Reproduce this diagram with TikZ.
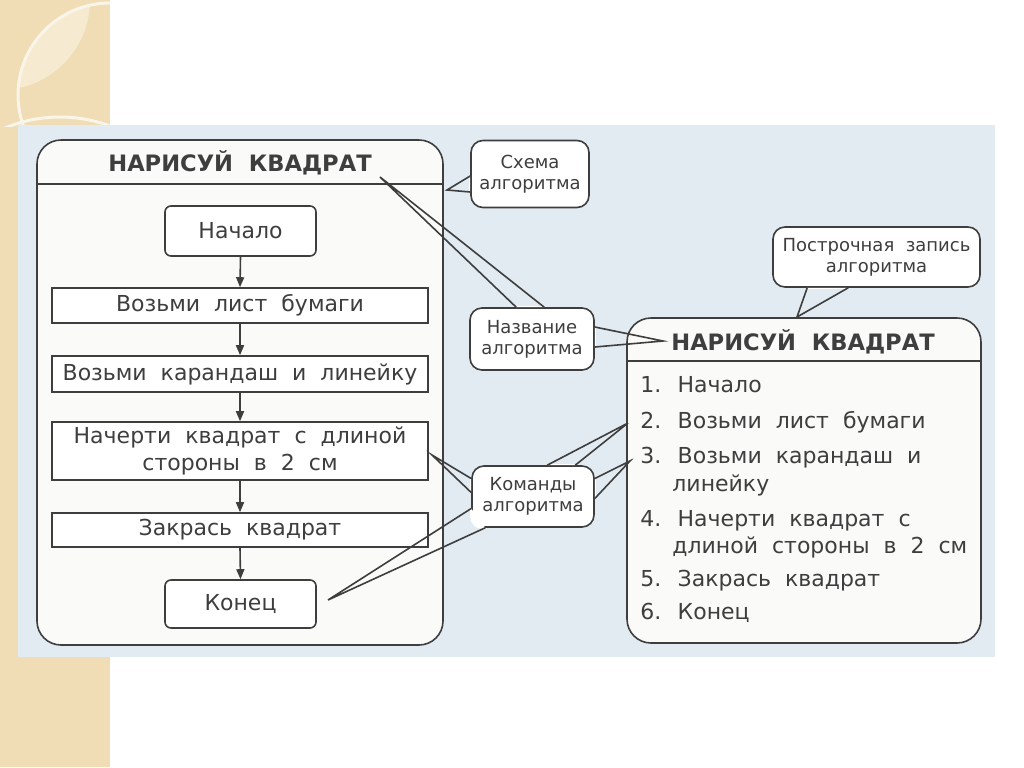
\documentclass[tikz,border=0pt]{standalone}
\usepackage{fontspec}
\setmainfont{DejaVu Sans}[WordSpace=2]
\usetikzlibrary{arrows.meta}
\definecolor{panel}{RGB}{226,235,242}
\definecolor{beige}{RGB}{240,221,181}
\definecolor{beigel}{RGB}{246,234,209}
\definecolor{ink}{RGB}{62,62,62}
\definecolor{boxfill}{RGB}{250,250,248}
% callout tail: node, base 1, base 2, tip
\newcommand{\tail}[4]{%
  \begin{scope}
    \clip[rounded corners=6pt] ([shift={(-.5pt,-.5pt)}]#1.south west) rectangle ([shift={(.5pt,.5pt)}]#1.north east);
    \fill[white] (#2) -- (#4) -- (#3) -- cycle;
  \end{scope}
  \draw[line] (#2) -- (#4) -- (#3);}
\tikzset{>=Triangle,every node/.style={text=ink,font=\fontsize{11}{13.5}\selectfont},
  line/.style={draw=ink,line width=.8pt},
  big/.style={line,fill=boxfill,rounded corners=12pt,inner sep=0pt},
  op/.style={line,fill=white,minimum width=188pt,inner sep=0pt,align=center},
  term/.style={op,rounded corners=3pt,minimum width=75.5pt,minimum height=25pt},
  call/.style={line,fill=white,rounded corners=6pt,inner sep=0pt,align=center,font=\fontsize{9}{10.5}\selectfont},
  ttl/.style={font=\fontsize{11.3}{14}\selectfont\bfseries},
  item/.style={anchor=base west,inner sep=0pt},
  flow/.style={line,-{Triangle[length=5pt,width=4pt]}}}
\begin{document}
\begin{tikzpicture}[x=.5pt,y=-.5pt]
\useasboundingbox (0,0) rectangle (1024,767);
% slide background
\fill[beige] (0,0) rectangle (110,767);
\begin{scope}
\clip (0,0) rectangle (110,767);
\begin{scope}
\clip (0,0) circle[radius=90];
\fill[beigel] (110,95) circle[radius=92];
\end{scope}
\draw[white!70!beige,line width=1.5pt] (110,95) circle[radius=92];
\clip (0,0) rectangle (110,126);
\draw[white!70!beige,line width=1.5pt] (60,260) circle[radius=143];
\end{scope}
\fill[panel] (18,125) rectangle (995,657);
% schema
\node[big,minimum width=203pt,minimum height=252.5pt] (alg1) at (240,392.5) {};
\draw[line] ([yshift=-22.5pt]alg1.north west) -- ([yshift=-22.5pt]alg1.north east);
\node[ttl] (t1) at (240,163) {НАРИСУЙ КВАДРАТ};
\node[term] (nach) at (240.5,231) {Начало};
\node[op,minimum height=17.5pt] (b1) at (240,305.5) {Возьми лист бумаги};
\node[op,minimum height=18pt] (b2) at (240,374) {Возьми карандаш и линейку};
\node[op,minimum height=29pt] (b3) at (240,451) {Начерти квадрат с длиной\\стороны в 2 см};
\node[op,minimum height=17pt] (b4) at (240,530) {Закрась квадрат};
\node[term,minimum height=24pt] (kon) at (240.5,604) {Конец};
\foreach \a/\b in {nach/b1,b1/b2,b2/b3,b3/b4,b4/kon}
  \draw[flow] (\a.south) -- (\b.north);
% line by line
\node[big,minimum width=177pt,minimum height=162.5pt] (alg2) at (804,480.5) {};
\draw[line] ([yshift=-22pt]alg2.north west) -- ([yshift=-22pt]alg2.north east);
\node[ttl] (t2) at (803,342) {НАРИСУЙ КВАДРАТ};
\foreach \x/\y/\t [count=\i] in {640/392/{1. Начало},640/428/{2. Возьми лист бумаги},
  640/463/{3. Возьми карандаш и},672/491/линейку,640/526/{4. Начерти квадрат с},
  672/553/{длиной стороны в 2 см},640/586/{5. Закрась квадрат},640/619/{6. Конец}}
  \node[item] (r\i) at (\x,\y) {\t};
% callouts
\node[call,minimum width=59pt,minimum height=33.5pt] (shema) at (530,174) {Схема\\алгоритма};
\node[call,minimum width=62pt,minimum height=31pt] (nazv) at (532,339) {Название\\алгоритма};
\node[call,minimum width=103.5pt,minimum height=30pt] (postr) at (876.5,257) {Построчная запись\\алгоритма};
\node[call,minimum width=61pt,minimum height=30.5pt] (kom) at (533,496.5) {Команды\\алгоритма};
\coordinate (tS) at (447,190);
\coordinate (tN1) at (380,177);
\coordinate (tN2) at (663,341);
\coordinate (tP) at (797,317);
\coordinate (tK1) at (432,455);
\coordinate (tK2) at (328,600);
\coordinate (tK3) at (628,423);
\coordinate (tK4) at (630,461);
\tail{shema}{[yshift=-1pt]shema.west}{[yshift=-9pt]shema.west}{tS}
\tail{nazv}{[xshift=23.5pt]nazv.north west}{[xshift=37.5pt]nazv.north west}{tN1}
\tail{nazv}{[yshift=6pt]nazv.east}{[yshift=-4pt]nazv.east}{tN2}
\tail{postr}{[xshift=17.5pt]postr.south west}{[xshift=38pt]postr.south west}{tP}
\tail{kom}{[yshift=9pt]kom.west}{[yshift=2pt]kom.west}{tK1}
\tail{kom}{[yshift=-6pt]kom.west}{[xshift=7pt]kom.south west}{tK2}
\tail{kom}{[xshift=38pt]kom.north west}{[xshift=52pt]kom.north west}{tK3}
\tail{kom}{[yshift=9pt]kom.east}{[yshift=-1pt]kom.east}{tK4}
\end{tikzpicture}
\end{document}
